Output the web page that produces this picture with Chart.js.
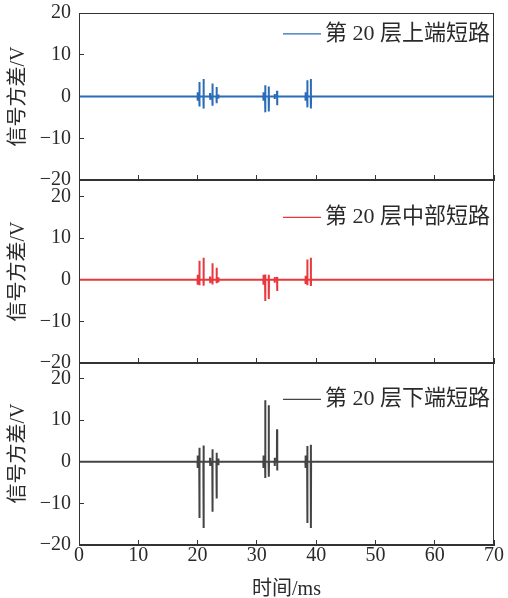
<!DOCTYPE html>
<html>
<head>
<meta charset="utf-8">
<script src="https://cdn.jsdelivr.net/npm/chart.js@4.4.0/dist/chart.umd.min.js"></script>
<style>
  body { margin: 0; background: #fff; }
  #wrap { position: relative; width: 508px; height: 598px; }
  canvas { position: absolute; left: 0; }
</style>
</head>
<body>
<div id="wrap">
  <canvas id="c1" width="508" height="200" style="top:0"></canvas>
  <canvas id="c2" width="508" height="210" style="top:170px"></canvas>
  <canvas id="c3" width="508" height="246" style="top:352px"></canvas>
</div>
<script>
// spike times (ms) and peak values
var spikeTimes = [20.3, 21.0, 22.5, 23.2, 31.4, 32.0, 33.4, 38.5, 39.1];
var upperHi  = [3.5, 4.2, 3.1, 2.3, 2.7, 2.4, 1.4, 3.9, 4.2];
var upperLo  = [-2.4, -2.9, -2.2, -1.6, -3.8, -3.6, -2.1, -2.6, -2.9];
var middleHi = [4.6, 5.3, 4.0, 2.9, 1.3, 1.2, 0.7, 4.9, 5.3];
var middleLo = [-1.3, -1.4, -1.1, -0.8, -5.1, -4.6, -2.7, -1.3, -1.5];
var lowerHi  = [3.4, 3.9, 3.0, 2.2, 14.8, 13.6, 7.8, 3.8, 4.1];
var lowerLo  = [-13.5, -15.9, -12.0, -8.8, -3.9, -3.6, -2.1, -14.7, -15.9];

// small blips near the spikes
var blipTimes = [20.0, 22.1, 23.5, 31.1, 33.0, 38.2];
var upperBlip  = [1.0, 0.8, 0.5, 1.0, 0.6, 1.0];
var middleBlip = [1.2, 0.8, 0.6, 1.2, 0.7, 1.0];
var lowerBlip  = [1.5, 1.0, 0.8, 1.5, 1.0, 1.5];

var xTicks = [0, 10, 20, 30, 40, 50, 60, 70];
var yTicks = [-20, -10, 0, 10, 20];
var labels = ['第 20 层上端短路', '第 20 层中部短路', '第 20 层下端短路'];

var FONT = '"Liberation Serif", "Noto Sans CJK SC", serif';
var INK = '#2a2a2a';

function buildPoints(hi, lo, blip) {
  var ev = [];
  for (var i = 0; i < spikeTimes.length; i++) ev.push([spikeTimes[i], hi[i], lo[i]]);
  for (var j = 0; j < blipTimes.length; j++) ev.push([blipTimes[j], blip[j], -blip[j]]);
  ev.sort(function(a, b){ return a[0] - b[0]; });
  var pts = [{x: 0, y: 0}];
  ev.forEach(function(e){
    pts.push({x: e[0] - 0.02, y: 0});
    pts.push({x: e[0], y: e[1]});
    pts.push({x: e[0] + 0.03, y: e[2]});
    pts.push({x: e[0] + 0.05, y: 0});
  });
  pts.push({x: 70, y: 0});
  return pts;
}

function minus(v) { return String(v).replace('-', '\u2212'); }

// box around the plot + legend drawn inside the plot area
var panelPlugin = {
  id: 'panelBox',
  afterDraw: function(chart, args, opts) {
    var a = chart.chartArea, ctx = chart.ctx;
    ctx.save();
    ctx.strokeStyle = '#333';
    ctx.lineWidth = 1;
    ctx.strokeRect(Math.round(a.left) + 0.5, Math.round(a.top) + 0.5,
      Math.round(a.right - a.left) - 1, Math.round(a.bottom - a.top) - 1);
    var y = chart.scales.y.getPixelForValue(15);
    ctx.strokeStyle = opts.color;
    ctx.lineWidth = 1.2;
    ctx.beginPath();
    ctx.moveTo(283, y);
    ctx.lineTo(321, y);
    ctx.stroke();
    ctx.fillStyle = INK;
    ctx.font = '22px ' + FONT;
    ctx.textBaseline = 'middle';
    ctx.textAlign = 'left';
    ctx.fillText(opts.text, 325, y);
    ctx.restore();
  }
};

function makePanel(id, hi, lo, blip, color, label, ymax, pad, last) {
  return new Chart(document.getElementById(id), {
    type: 'line',
    data: {
      datasets: [{
        data: buildPoints(hi, lo, blip),
        borderColor: color,
        borderWidth: 2,
        pointRadius: 0,
        tension: 0
      }]
    },
    options: {
      responsive: false,
      animation: false,
      layout: { padding: pad },
      plugins: {
        legend: { display: false },
        tooltip: { enabled: false },
        panelBox: { text: label, color: color }
      },
      scales: {
        x: {
          type: 'linear', min: 0, max: 70,
          afterBuildTicks: function(s){ s.ticks = xTicks.map(function(v){ return {value: v}; }); },
          afterFit: function(s){ s.height = last ? 53 : 0; s.paddingLeft = 0; s.paddingRight = 0; },
          ticks: { display: last, font: {family: FONT, size: 20}, color: INK, padding: 4, maxRotation: 0 },
          grid: { drawOnChartArea: false, tickLength: -5, tickColor: '#333' },
          border: { color: '#333' },
          title: { display: last, text: '时间/ms', font: {family: FONT, size: 20}, color: INK, padding: {top: 0, bottom: -4} }
        },
        y: {
          min: -20, max: ymax,
          afterBuildTicks: function(s){ s.ticks = yTicks.map(function(v){ return {value: v}; }); },
          afterFit: function(s){ s.width = 79; s.paddingTop = 0; s.paddingBottom = 0; },
          ticks: { font: {family: FONT, size: 20}, color: INK, padding: 13, callback: minus },
          grid: { drawOnChartArea: false, tickLength: -5, tickColor: '#333' },
          border: { color: '#333' },
          title: { display: true, text: '信号方差/V', font: {family: FONT, size: 20}, color: INK, padding: {top: 7, bottom: 0} }
        }
      }
    },
    plugins: [panelPlugin]
  });
}

makePanel('c1', upperHi, upperLo, upperBlip, '#2b6cb8', labels[0], 20, {top: 13, bottom: 20, left: 0, right: 14}, false);
makePanel('c2', middleHi, middleLo, middleBlip, '#e8383d', labels[1], 24, {top: 10, bottom: 17, left: 0, right: 14}, false);
makePanel('c3', lowerHi, lowerLo, lowerBlip, '#444444', labels[2], 24, {top: 10, bottom: 0, left: 0, right: 14}, true);
</script>
</body>
</html>
